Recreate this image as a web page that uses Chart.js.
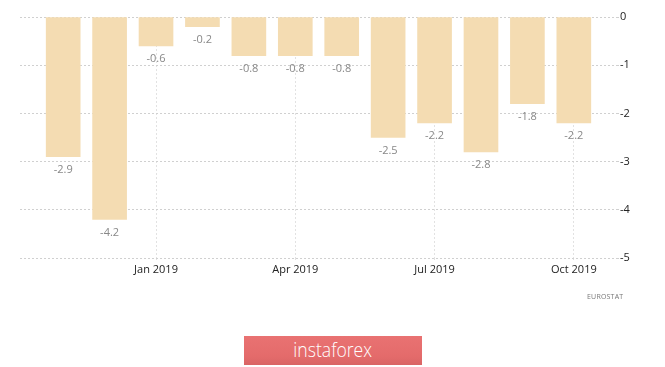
<!DOCTYPE html>
<html>
<head>
<meta charset="utf-8">
<script src="https://cdn.jsdelivr.net/npm/chart.js@4/dist/chart.umd.min.js"></script>
<style>
  html, body { margin: 0; padding: 0; background: #fff; }
  #wrap { position: relative; width: 665px; height: 367px; }
  #source { position: absolute; left: 587px; top: 292px; font: 7px "Open Sans", sans-serif; color: #777; letter-spacing: 0.2px; }
  #logo {
    position: absolute; left: 244px; top: 336px; width: 178px; height: 29px;
    background: linear-gradient(#e97272, #e46b6b 70%, #d96464);
    color: #fff; font: 300 20px "Open Sans", sans-serif; text-align: center; line-height: 28px;
  }
  #logo span { display: inline-block; transform: scaleX(0.88); }
</style>
</head>
<body>
<div id="wrap">
  <canvas id="myChart" width="665" height="367"></canvas>
  <div id="source">EUROSTAT</div>
  <div id="logo"><span>instaforex</span></div>
</div>
<script>
"use strict";

/* Data */
const months = ['Nov 2018', 'Dec 2018', 'Jan 2019', 'Feb 2019', 'Mar 2019', 'Apr 2019',
                'May 2019', 'Jun 2019', 'Jul 2019', 'Aug 2019', 'Sep 2019', 'Oct 2019'];
const values = [-2.9, -4.2, -0.6, -0.2, -0.8, -0.8, -0.8, -2.5, -2.2, -2.8, -1.8, -2.2];
const xTickLabels = ['Jan 2019', 'Apr 2019', 'Jul 2019', 'Oct 2019'];
const yTicks = [0, -1, -2, -3, -4, -5];

// bar values drawn under each bar
const valueLabels = {
    id: 'valueLabels',
    afterDatasetsDraw(chart) {
        const ctx = chart.ctx;
        const meta = chart.getDatasetMeta(0);
        ctx.save();
        ctx.font = '11px "Open Sans", sans-serif';
        ctx.fillStyle = '#888';
        ctx.textAlign = 'center';
        ctx.textBaseline = 'middle';
        meta.data.forEach(function (bar, i) {
            ctx.fillText(values[i].toFixed(1), bar.x, bar.y + 13);
        });
        ctx.restore();
    }
};

const points = values.map(function (v, i) { return { x: i, y: v }; });

const config = {
    type: 'bar',
    data: {
        datasets: [{
            data: points,
            backgroundColor: '#f4dcb2',
            barThickness: 34
        }]
    },
    options: {
        responsive: false,
        animation: false,
        layout: { padding: { left: 20, top: 17, right: 0, bottom: 0 } },
        plugins: { legend: { display: false }, tooltip: { enabled: false } },
        scales: {
            x: {
                type: 'linear',
                offset: false,
                min: -0.93,
                max: 11.93,
                afterBuildTicks: function (axis) {
                    axis.ticks = xTickLabels.map(function (l) {
                        return { value: months.indexOf(l) };
                    });
                },
                afterFit: function (axis) { axis.height = 109; },
                border: { display: false, dash: [2, 2] },
                grid: {
                    offset: false,
                    color: '#e2e2e2',
                    tickLength: 2,
                    tickBorderDash: [2, 2]
                },
                ticks: {
                    autoSkip: false,
                    maxRotation: 0,
                    padding: 3,
                    color: '#222',
                    font: { family: 'Open Sans', size: 11 },
                    callback: function (v) { return months[v]; }
                }
            },
            y: {
                position: 'right',
                min: -5,
                max: 0,
                afterBuildTicks: function (axis) {
                    axis.ticks = yTicks.map(function (v) { return { value: v }; });
                },
                afterFit: function (axis) { axis.width = 48; },
                border: { display: false, dash: [2, 2] },
                grid: {
                    color: '#d0d0d0',
                    tickLength: 3,
                    tickBorderDash: [2, 2]
                },
                ticks: {
                    padding: 0,
                    color: '#222',
                    font: { family: 'Open Sans', size: 11 }
                }
            }
        }
    },
    plugins: [valueLabels]
};

const myChart = new Chart(document.getElementById('myChart'), config);
</script>
</body>
</html>
